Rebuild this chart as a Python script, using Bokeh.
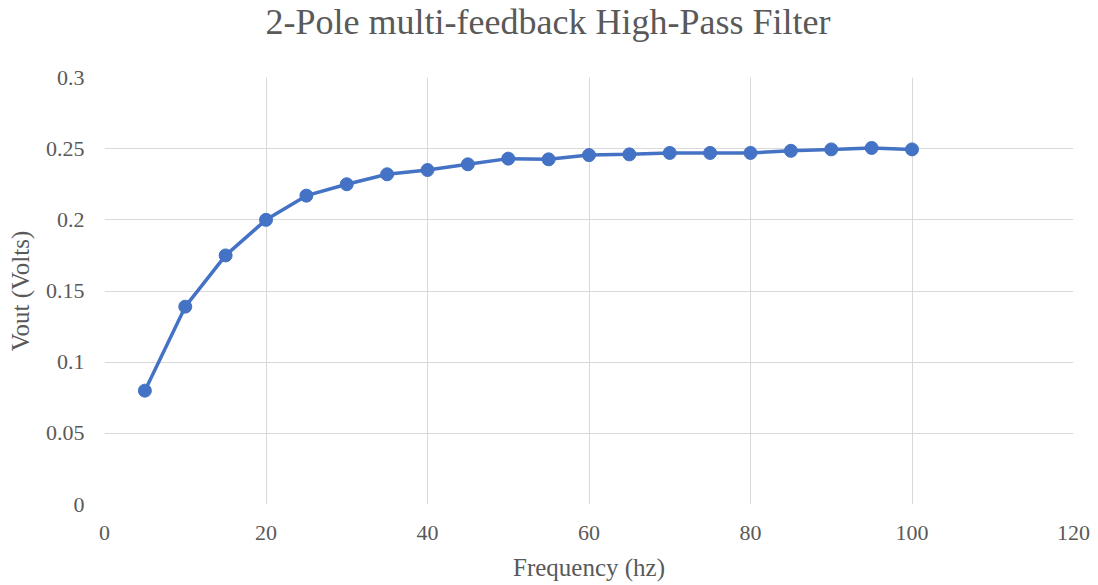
from bokeh.plotting import figure
from bokeh.layouts import column
from bokeh.models import Range1d, FixedTicker
from bokeh.core.properties import value
from bokeh.embed import file_html
from bokeh.resources import INLINE

# Measured output of the 2-pole multi-feedback high-pass filter
freq_hz = [5, 10, 15, 20, 25, 30, 35, 40, 45, 50,
           55, 60, 65, 70, 75, 80, 85, 90, 95, 100]
vout_volts = [0.080, 0.139, 0.175, 0.200, 0.217, 0.225, 0.232, 0.235, 0.239, 0.243,
              0.2425, 0.2455, 0.246, 0.247, 0.247, 0.247, 0.2485, 0.2495, 0.2505, 0.2495]

x_ticks = [0, 20, 40, 60, 80, 100, 120]
y_ticks = [0, 0.05, 0.1, 0.15, 0.2, 0.25, 0.3]
y_tick_labels = ["0", "0.05", "0.1", "0.15", "0.2", "0.25", "0.3"]
chart_title = "2-Pole multi-feedback High-Pass Filter"

FONT = "Liberation Serif"
TEXT = "#595959"
GRID = "#d9d9d9"
BLUE = "#4472C4"

W = 1098
TITLE_H = 62
PLOT_H = 585 - TITLE_H
FRAME_L = 104
FRAME_R = 25

# --- title strip; the column aligns its frame with the chart's frame,
# so its x range is given in page pixels over that frame
head = figure(width=W, height=TITLE_H, output_backend="svg", toolbar_location=None,
              x_range=Range1d(FRAME_L, W - FRAME_R), y_range=Range1d(0, TITLE_H),
              x_axis_location=None, y_axis_location=None, title=None,
              min_border_left=FRAME_L, min_border_right=FRAME_R,
              min_border_top=0, min_border_bottom=0)
head.outline_line_color = None
head.xgrid.visible = False
head.ygrid.visible = False
head.text(x=[W / 2 - 1.5], y=[TITLE_H - 21], text=[chart_title],
          text_align="center", text_baseline="alphabetic",
          text_font=value(FONT), text_font_size="36px", text_color=TEXT)

# --- main chart
p = figure(width=W, height=PLOT_H, output_backend="svg", toolbar_location=None,
           x_range=Range1d(0, 120), y_range=Range1d(0, 0.3), title=None,
           min_border_left=FRAME_L, min_border_right=FRAME_R,
           min_border_top=15, min_border_bottom=81)

p.outline_line_color = None
p.background_fill_color = "white"
p.border_fill_color = "white"

p.xaxis.ticker = FixedTicker(ticks=x_ticks)
p.yaxis.ticker = FixedTicker(ticks=y_ticks)
p.yaxis.major_label_overrides = dict(zip(y_ticks, y_tick_labels))
p.xgrid.ticker = FixedTicker(ticks=x_ticks)
p.ygrid.ticker = FixedTicker(ticks=y_ticks)

for ax in (p.xaxis, p.yaxis):
    ax.axis_line_color = None
    ax.major_tick_line_color = None
    ax.minor_tick_line_color = None
    ax.major_tick_out = 0
    ax.major_tick_in = 0
    ax.minor_tick_out = 0
    ax.major_label_text_font = FONT
    ax.major_label_text_font_size = "22px"
    ax.major_label_text_color = TEXT
    ax.axis_label_text_font = FONT
    ax.axis_label_text_font_size = "25px"
    ax.axis_label_text_font_style = "normal"
    ax.axis_label_text_color = TEXT

p.xaxis.axis_label = "Frequency (hz)"
p.yaxis.axis_label = "Vout (Volts)"
p.xaxis.major_label_standoff = 21
p.yaxis.major_label_standoff = 20
p.xaxis.axis_label_standoff = 11
p.yaxis.axis_label_standoff = 9

p.xgrid.grid_line_color = GRID
p.ygrid.grid_line_color = GRID
p.xgrid.grid_line_width = 1
p.ygrid.grid_line_width = 1

p.line(freq_hz, vout_volts, line_color=BLUE, line_width=3.5)
p.scatter(freq_hz, vout_volts, marker="circle", size=13,
          fill_color=BLUE, line_color=BLUE)

page = column(head, p, spacing=0)
open("out.html", "w").write(file_html(page, INLINE))
